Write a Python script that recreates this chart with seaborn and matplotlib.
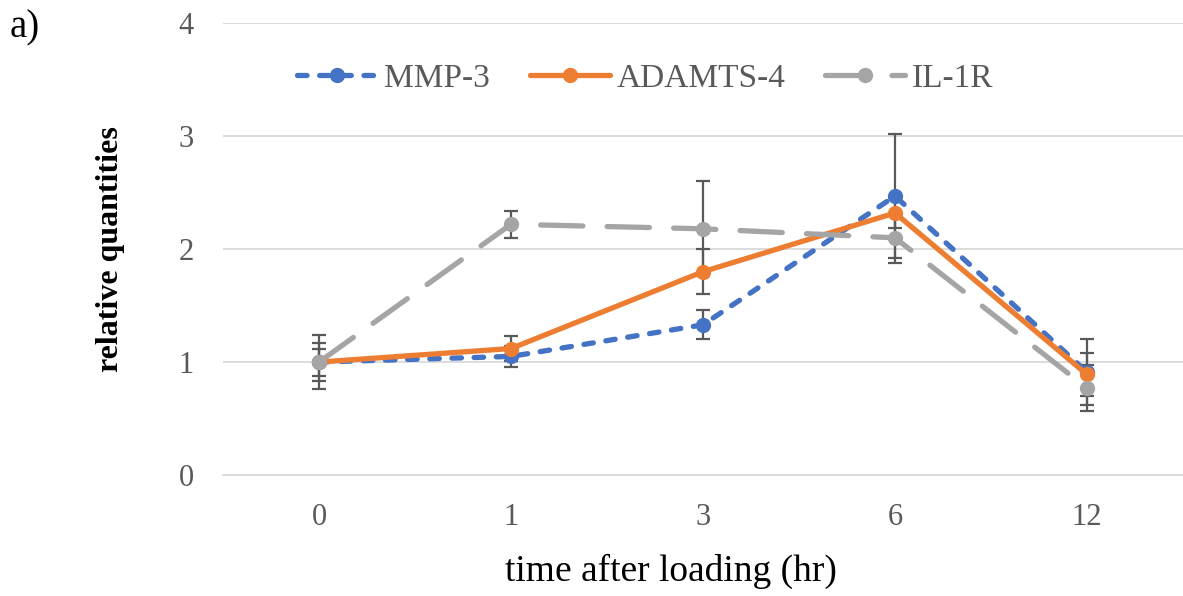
import seaborn as sns
import pandas as pd
import matplotlib.pyplot as plt

# data
times = ['0', '1', '3', '6', '12']
mmp3 = [1.00, 1.05, 1.33, 2.47, 0.91]
mmp3_err = [0.12, 0.09, 0.13, 0.55, 0.29]
adamts4 = [1.00, 1.12, 1.80, 2.32, 0.89]
adamts4_err = [0.17, 0.11, 0.20, 0.13, 0.19]
il1r = [1.00, 2.22, 2.18, 2.10, 0.77]
il1r_err = [0.24, 0.12, 0.42, 0.22, 0.20]

series = [
    ('MMP-3', mmp3, mmp3_err, '#4472C4', (1.8, 2.4)),
    ('ADAMTS-4', adamts4, adamts4_err, '#ED7D31', ''),
    ('IL-1R', il1r, il1r_err, '#A5A5A5', (8.0, 4.6)),
]

rows = []
for name, vals, errs, _, _ in series:
    for i, (v, e) in enumerate(zip(vals, errs)):
        rows.append({'pos': i, 'value': v, 'err': e, 'gene': name})
df = pd.DataFrame(rows)

sns.set_style('white')
plt.rcParams['font.family'] = ['Liberation Serif', 'DejaVu Serif']

fig = plt.figure(figsize=(11.83, 5.96), dpi=100)
ax = fig.add_axes([0.1885, 0.203, 0.8115, 0.758])

# error bars first so the markers sit on top
for name, vals, errs, color, dash in series:
    sub = df[df['gene'] == name]
    ax.errorbar(sub['pos'], sub['value'], yerr=sub['err'], fmt='none',
                ecolor='#595959', elinewidth=1.6, capsize=5, capthick=1.6, zorder=2)

sns.lineplot(data=df, x='pos', y='value', hue='gene', style='gene',
             palette={n: c for n, _, _, c, _ in series},
             dashes={n: d for n, _, _, _, d in series},
             markers={n: 'o' for n, _, _, _, _ in series},
             markersize=11, markeredgewidth=0, linewidth=3.8,
             dash_capstyle='round', ax=ax, zorder=3, legend=True)

ax.set_xlim(-0.5, 4.5)
ax.set_ylim(0, 4)
ax.set_xticks(range(len(times)))
ax.set_xticklabels(times)
ax.set_yticks([0, 1, 2, 3, 4])
ax.tick_params(axis='both', labelsize=22, colors='#595959', length=0)
ax.tick_params(axis='x', pad=20)
ax.tick_params(axis='y', pad=21)
ax.yaxis.grid(True, color='#D9D9D9', linewidth=1.3)
ax.set_axisbelow(True)
for s in ['top', 'right', 'left']:
    ax.spines[s].set_visible(False)
ax.spines['bottom'].set_color('#D9D9D9')
ax.spines['bottom'].set_linewidth(1.3)

ax.set_xlabel('time after loading (hr)', fontsize=27, color='black')
ax.xaxis.set_label_coords(0.467, -0.175)
ax.set_ylabel('relative quantities', fontsize=23, fontweight='bold', color='black')
ax.yaxis.set_label_coords(-0.102, 0.5)

handles, labels = ax.get_legend_handles_labels()
leg = ax.legend(handles, labels, loc='center', bbox_to_anchor=(0.44, 0.877),
                ncol=3, frameon=False, fontsize=24, handlelength=2.4, columnspacing=1.2,
                handletextpad=0.2)
for t in leg.get_texts():
    t.set_color('#595959')

fig.text(0.0085, 0.984, 'a)', fontsize=28, color='black', va='top')

fig.savefig('out.png', dpi=100)
